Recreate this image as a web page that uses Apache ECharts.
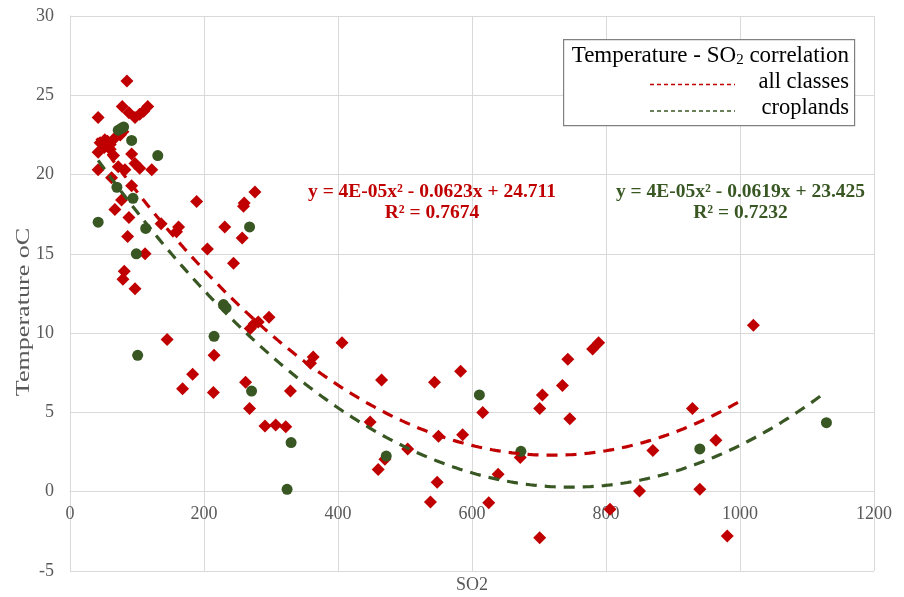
<!DOCTYPE html>
<html>
<head>
<meta charset="utf-8">
<title>Temperature - SO2</title>
<style>
  html, body { margin: 0; padding: 0; background: #fff; }
  #chart { width: 904px; height: 597px; }
</style>
</head>
<body>
<div id="chart"></div>
<script src="https://cdn.jsdelivr.net/npm/echarts@6/dist/echarts.min.js"></script>
<script>
// SO2 / temperature pairs
var allClasses = [
  [85, 25.9], [42, 23.6], [78, 24.3], [88, 23.9], [97, 23.6], [104, 23.8], [110, 24.0], [116, 24.3],
  [45, 22.0], [52, 22.2], [56, 22.1], [60, 21.9], [67, 22.3], [75, 22.5], [79, 22.7], [60, 21.6], [51, 21.7],
  [42, 21.4], [65, 21.2], [92, 21.3], [97, 20.7], [104, 20.4], [72, 20.5], [42, 20.3], [122, 20.3], [82, 20.3],
  [62, 19.8], [92, 19.3], [77, 18.4], [67, 17.8], [88, 17.3], [136, 16.9], [86, 16.1], [112, 15.0],
  [81, 13.9], [79, 13.4], [97, 12.8], [145, 9.6],
  [189, 18.3], [276, 18.9], [260, 18.2], [259, 18.0], [162, 16.7], [159, 16.4], [231, 16.7], [257, 16.0],
  [205, 15.3], [244, 14.4], [297, 11.0], [269, 10.3], [275, 10.6], [281, 10.7], [406, 9.4], [215, 8.6],
  [363, 8.5], [359, 8.1], [183, 7.4], [168, 6.5], [214, 6.25], [262, 6.9], [329, 6.35], [268, 5.25],
  [291, 4.15], [307, 4.2], [322, 4.1],
  [465, 7.05], [544, 6.9], [583, 7.6], [616, 5.0], [448, 4.4], [550, 3.5], [586, 3.6], [504, 2.7],
  [470, 2.05], [460, 1.4], [672, 2.15], [639, 1.1], [548, 0.6], [538, -0.65], [625, -0.7], [701, -2.9],
  [701, 5.25], [705, 6.1], [735, 6.7], [743, 8.35], [746, 4.6], [780, 9.0], [789, 9.4], [806, -1.1],
  [1020, 10.5], [929, 5.25], [964, 3.25], [870, 2.6], [850, 0.05], [940, 0.15], [981, -2.8]
];
var croplands = [
  [42, 17.0], [70, 19.2], [72, 22.8], [80, 23.0], [76, 22.9], [92, 22.15], [94, 18.5], [99, 15.0],
  [101, 8.6], [113, 16.6], [131, 21.2], [215, 9.8], [229, 11.8], [233, 11.6], [268, 16.7], [271, 6.35],
  [324, 0.15], [330, 3.1], [472, 2.25], [611, 6.1], [673, 2.55], [940, 2.7], [1129, 4.35]
];

// polynomial trendlines (a, b, c) and the x span each one covers
var allTrend = [4.33e-5, -0.0623, 24.711];
var allTrendRange = [40, 1005];
var cropTrend = [4.14e-5, -0.0619, 23.425];
var cropTrendRange = [42, 1129];

var xTicks = [0, 200, 400, 600, 800, 1000, 1200];
var yTicks = [-5, 0, 5, 10, 15, 20, 25, 30];

function trendPoints(coef, range) {
  var pts = [];
  for (var x = range[0]; x <= range[1]; x += 5) {
    pts.push([x, coef[0] * x * x + coef[1] * x + coef[2]]);
  }
  return pts;
}

var RED = '#c00000';
var GREEN = '#385723';
var serif = '"Liberation Serif", "Times New Roman", serif';

var gridTop = 16, gridBottom = 26;
var plotH = 597 - gridTop - gridBottom;
var yMin = yTicks[0], yMax = yTicks[yTicks.length - 1];
// the x axis crosses at temperature 0, not at the bottom of the plot
var zeroOffset = -plotH * (0 - yMin) / (yMax - yMin);

var chart = echarts.init(document.getElementById('chart'));
chart.setOption({
  animation: false,
  grid: { left: 70, right: 30, top: gridTop, bottom: gridBottom, containLabel: false, outerBoundsMode: 'none' },
  xAxis: {
    type: 'value',
    min: xTicks[0], max: xTicks[xTicks.length - 1], interval: 200,
    offset: zeroOffset,
    name: 'SO2', nameLocation: 'middle', nameGap: 85,
    nameTextStyle: { fontFamily: serif, fontSize: 18, color: '#595959' },
    axisLine: { show: true, onZero: false, lineStyle: { color: '#d9d9d9', width: 1 } },
    axisTick: { show: false },
    axisLabel: { fontFamily: serif, fontSize: 18, color: '#595959', margin: 14, formatter: function (v) { return String(v); } },
    splitLine: { lineStyle: { color: '#d9d9d9', width: 1 } }
  },
  yAxis: {
    type: 'value',
    min: yMin, max: yMax, interval: 5,
    axisLine: { show: true, onZero: false, lineStyle: { color: '#d9d9d9', width: 1 } },
    axisTick: { show: false },
    axisLabel: { fontFamily: serif, fontSize: 18, color: '#595959', margin: 16 },
    splitLine: { lineStyle: { color: '#d9d9d9', width: 1 } }
  },
  series: [
    {
      name: 'all classes', type: 'scatter', data: allClasses,
      symbol: 'diamond', symbolSize: [13, 13],
      itemStyle: { color: RED, opacity: 1 }, z: 2
    },
    {
      name: 'croplands', type: 'scatter', data: croplands,
      symbol: 'circle', symbolSize: 11,
      itemStyle: { color: GREEN, opacity: 1 }, z: 3
    },
    {
      type: 'line', data: trendPoints(allTrend, allTrendRange),
      showSymbol: false, symbol: 'none', silent: true, z: 4,
      lineStyle: { color: RED, width: 3.2, type: [11, 8] }
    },
    {
      type: 'line', data: trendPoints(cropTrend, cropTrendRange),
      showSymbol: false, symbol: 'none', silent: true, z: 4,
      lineStyle: { color: GREEN, width: 3.2, type: [11, 8] }
    }
  ],
  graphic: [
    // y axis title (stretched along its length like the original)
    {
      type: 'text', x: 24, y: 312, rotation: Math.PI / 2, scaleX: 1.45, z: 11,
      style: {
        text: 'Temperature oC', fontFamily: serif, fontSize: 18, fill: '#595959',
        align: 'center', verticalAlign: 'middle'
      }
    },
    // legend box
    {
      type: 'rect', left: 563, top: 39, z: 10,
      shape: { width: 291, height: 86 },
      style: { fill: '#fff', stroke: '#808080', lineWidth: 1.2 }
    },
    {
      type: 'text', right: 904 - 849, top: 43, z: 11,
      style: {
        text: '{a|Temperature - SO}{s|2}{a| correlation}',
        rich: {
          a: { fontFamily: serif, fontSize: 23, color: '#000', lineHeight: 27 },
          s: { fontFamily: serif, fontSize: 15, color: '#000', lineHeight: 27, padding: [10, 0, 0, 0] }
        }
      }
    },
    {
      type: 'text', right: 904 - 849, top: 71, z: 11,
      style: { text: 'all classes', fontFamily: serif, fontSize: 22.5, fill: '#000' }
    },
    {
      type: 'text', right: 904 - 849, top: 97, z: 11,
      style: { text: 'croplands', fontFamily: serif, fontSize: 22.5, fill: '#000' }
    },
    {
      type: 'line', z: 11,
      shape: { x1: 650, y1: 84.5, x2: 735, y2: 84.5 },
      style: { stroke: RED, lineWidth: 1.3, lineDash: [4, 3] }
    },
    {
      type: 'line', z: 11,
      shape: { x1: 650, y1: 111, x2: 735, y2: 111 },
      style: { stroke: GREEN, lineWidth: 1.3, lineDash: [4, 3] }
    },
    // trendline equations
    {
      type: 'text', x: 432, y: 202.5, z: 11,
      style: {
        text: 'y = 4E-05x² - 0.0623x + 24.711\nR² = 0.7674',
        fontFamily: serif, fontSize: 19.5, fontWeight: 'bold', fill: RED,
        align: 'center', verticalAlign: 'middle', lineHeight: 21.6
      }
    },
    {
      type: 'text', x: 740.5, y: 202.5, z: 11,
      style: {
        text: 'y = 4E-05x² - 0.0619x + 23.425\nR² = 0.7232',
        fontFamily: serif, fontSize: 19.5, fontWeight: 'bold', fill: GREEN,
        align: 'center', verticalAlign: 'middle', lineHeight: 21.6
      }
    }
  ]
});
</script>
</body>
</html>
